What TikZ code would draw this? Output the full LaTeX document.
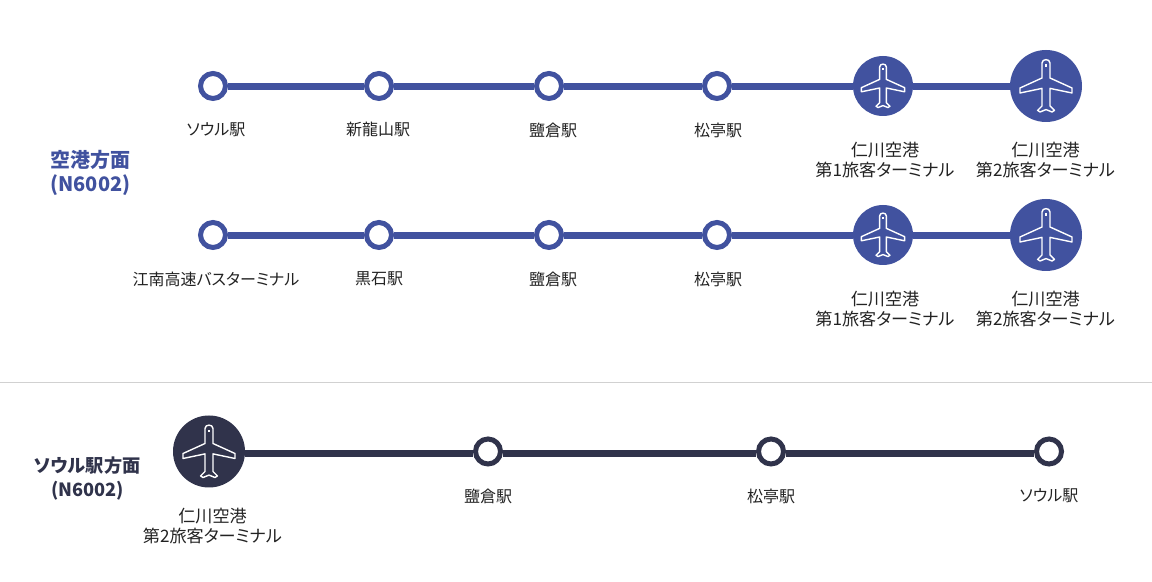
\documentclass[tikz,border=0pt]{standalone}
\usepackage{fontspec}
\setmainfont[RawFeature=+palt]{Noto Sans CJK JP}
\definecolor{lineblue}{HTML}{41529F}
\definecolor{linedark}{HTML}{30334B}
\definecolor{labeltext}{HTML}{222222}
\tikzset{
	stop/.style={circle, draw=#1, line width=2.5pt, fill=white, minimum size=12.5pt, inner sep=0pt},
	hubsmall/.style={circle, fill=#1, minimum size=30pt, inner sep=0pt},
	hubbig/.style={circle, fill=#1, minimum size=36pt, inner sep=0pt},
	track/.style={line width=3.3pt},
	stoplabel/.style={font=\fontsize{8pt}{10pt}\selectfont, text=labeltext, align=center, inner sep=0pt},
	hublabel/.style={font=\fontsize{8.55pt}{10pt}\selectfont, text=labeltext, align=center, inner sep=0pt},
	headlabel/.style={font=\fontsize{10pt}{12pt}\selectfont\bfseries, align=center, inner sep=0pt},
	plane/.pic={
		\draw[white, line width=0.7pt, line join=round, fill=none]
			(-4,-23) .. controls (-4,-27.5) and (4,-27.5) .. (4,-23)
			-- (4,-8) -- (26,2) -- (26,7) -- (4,2.4) -- (4,20) -- (8.4,24.4) -- (6,26)
			-- (0,23.6) -- (-6,26) -- (-8.4,24.4) -- (-4,20) -- (-4,2.4) -- (-26,7) -- (-26,2)
			-- (-4,-8) -- cycle;
		\fill[white] (-1.2,-21.5) rectangle (1.2,-19);
	}
}
\begin{document}
\begin{tikzpicture}[x=0.5pt, y=-0.5pt]
	\useasboundingbox (0,0) rectangle (1152,582);

	% upper line
	\node[stop=lineblue] (a1) at (213,86) {};
	\node[stop=lineblue] (a2) at (379,86) {};
	\node[stop=lineblue] (a3) at (549,86) {};
	\node[stop=lineblue] (a4) at (717,86) {};
	\node[hubsmall=lineblue] (a5) at (883,86) {};
	\node[hubbig=lineblue] (a6) at (1046,86) {};
	\begin{scope}[transform canvas={yshift=-0.3pt}]
		\draw[lineblue, track] (a1) -- (a2);
		\draw[lineblue, track] (a2) -- (a3);
		\draw[lineblue, track] (a3) -- (a4);
		\draw[lineblue, track] (a4) -- (a5);
		\draw[lineblue, track] (a5) -- (a6);
	\end{scope}
	\pic[scale=0.83] at (a5) {plane};
	\pic at (a6) {plane};

	% lower line
	\node[stop=lineblue] (b1) at (213,235) {};
	\node[stop=lineblue] (b2) at (379,235) {};
	\node[stop=lineblue] (b3) at (549,235) {};
	\node[stop=lineblue] (b4) at (717,235) {};
	\node[hubsmall=lineblue] (b5) at (883,235) {};
	\node[hubbig=lineblue] (b6) at (1046,235) {};
	\begin{scope}[transform canvas={yshift=-0.3pt}]
		\draw[lineblue, track] (b1) -- (b2);
		\draw[lineblue, track] (b2) -- (b3);
		\draw[lineblue, track] (b3) -- (b4);
		\draw[lineblue, track] (b4) -- (b5);
		\draw[lineblue, track] (b5) -- (b6);
	\end{scope}
	\pic[scale=0.83] at (b5) {plane};
	\pic at (b6) {plane};

	% separator
	\coordinate (sepl) at (0,382.5);
	\coordinate (sepr) at (1152,382.5);
	\draw[black!18, line width=0.5pt] (sepl) -- (sepr);

	% seoul line
	\node[hubbig=linedark] (c1) at (209,451.5) {};
	\node[stop=linedark] (c2) at (488,451.5) {};
	\node[stop=linedark] (c3) at (771,451.5) {};
	\node[stop=linedark] (c4) at (1049,451.5) {};
	\begin{scope}[transform canvas={yshift=-1pt}]
		\draw[linedark, track] (c1) -- (c2);
		\draw[linedark, track] (c2) -- (c3);
		\draw[linedark, track] (c3) -- (c4);
	\end{scope}
	\pic at (c1) {plane};

	% labels
	\node[headlabel, text=lineblue] (h1) at (90.5,173) {空港方面\\(N6002)};
	\node[headlabel, text=linedark, font=\fontsize{9.1pt}{12pt}\selectfont\bfseries] (h2) at (87.5,479) {ソウル駅方面\\(N6002)};

	\node[stoplabel] (la1) at (216,130) {ソウル駅};
	\node[stoplabel] (la2) at (378,129.5) {新龍山駅};
	\node[stoplabel] (la3) at (553,130) {鹽倉駅};
	\node[stoplabel] (la4) at (718,130) {松亭駅};
	\node[hublabel] (la5) at (885,160) {仁川空港\\第1旅客ターミナル};
	\node[hublabel] (la6) at (1045.5,160) {仁川空港\\第2旅客ターミナル};

	\node[stoplabel] (lb1) at (216,279) {江南高速バスターミナル};
	\node[stoplabel] (lb2) at (379,278.5) {黒石駅};
	\node[stoplabel] (lb3) at (553,279) {鹽倉駅};
	\node[stoplabel] (lb4) at (718,279) {松亭駅};
	\node[hublabel] (lb5) at (885,309) {仁川空港\\第1旅客ターミナル};
	\node[hublabel] (lb6) at (1045.5,309) {仁川空港\\第2旅客ターミナル};

	\node[hublabel] (lc1) at (212.5,526) {仁川空港\\第2旅客ターミナル};
	\node[stoplabel] (lc2) at (488,496) {鹽倉駅};
	\node[stoplabel] (lc3) at (771,496) {松亭駅};
	\node[stoplabel] (lc4) at (1049,496) {ソウル駅};
\end{tikzpicture}
\end{document}
